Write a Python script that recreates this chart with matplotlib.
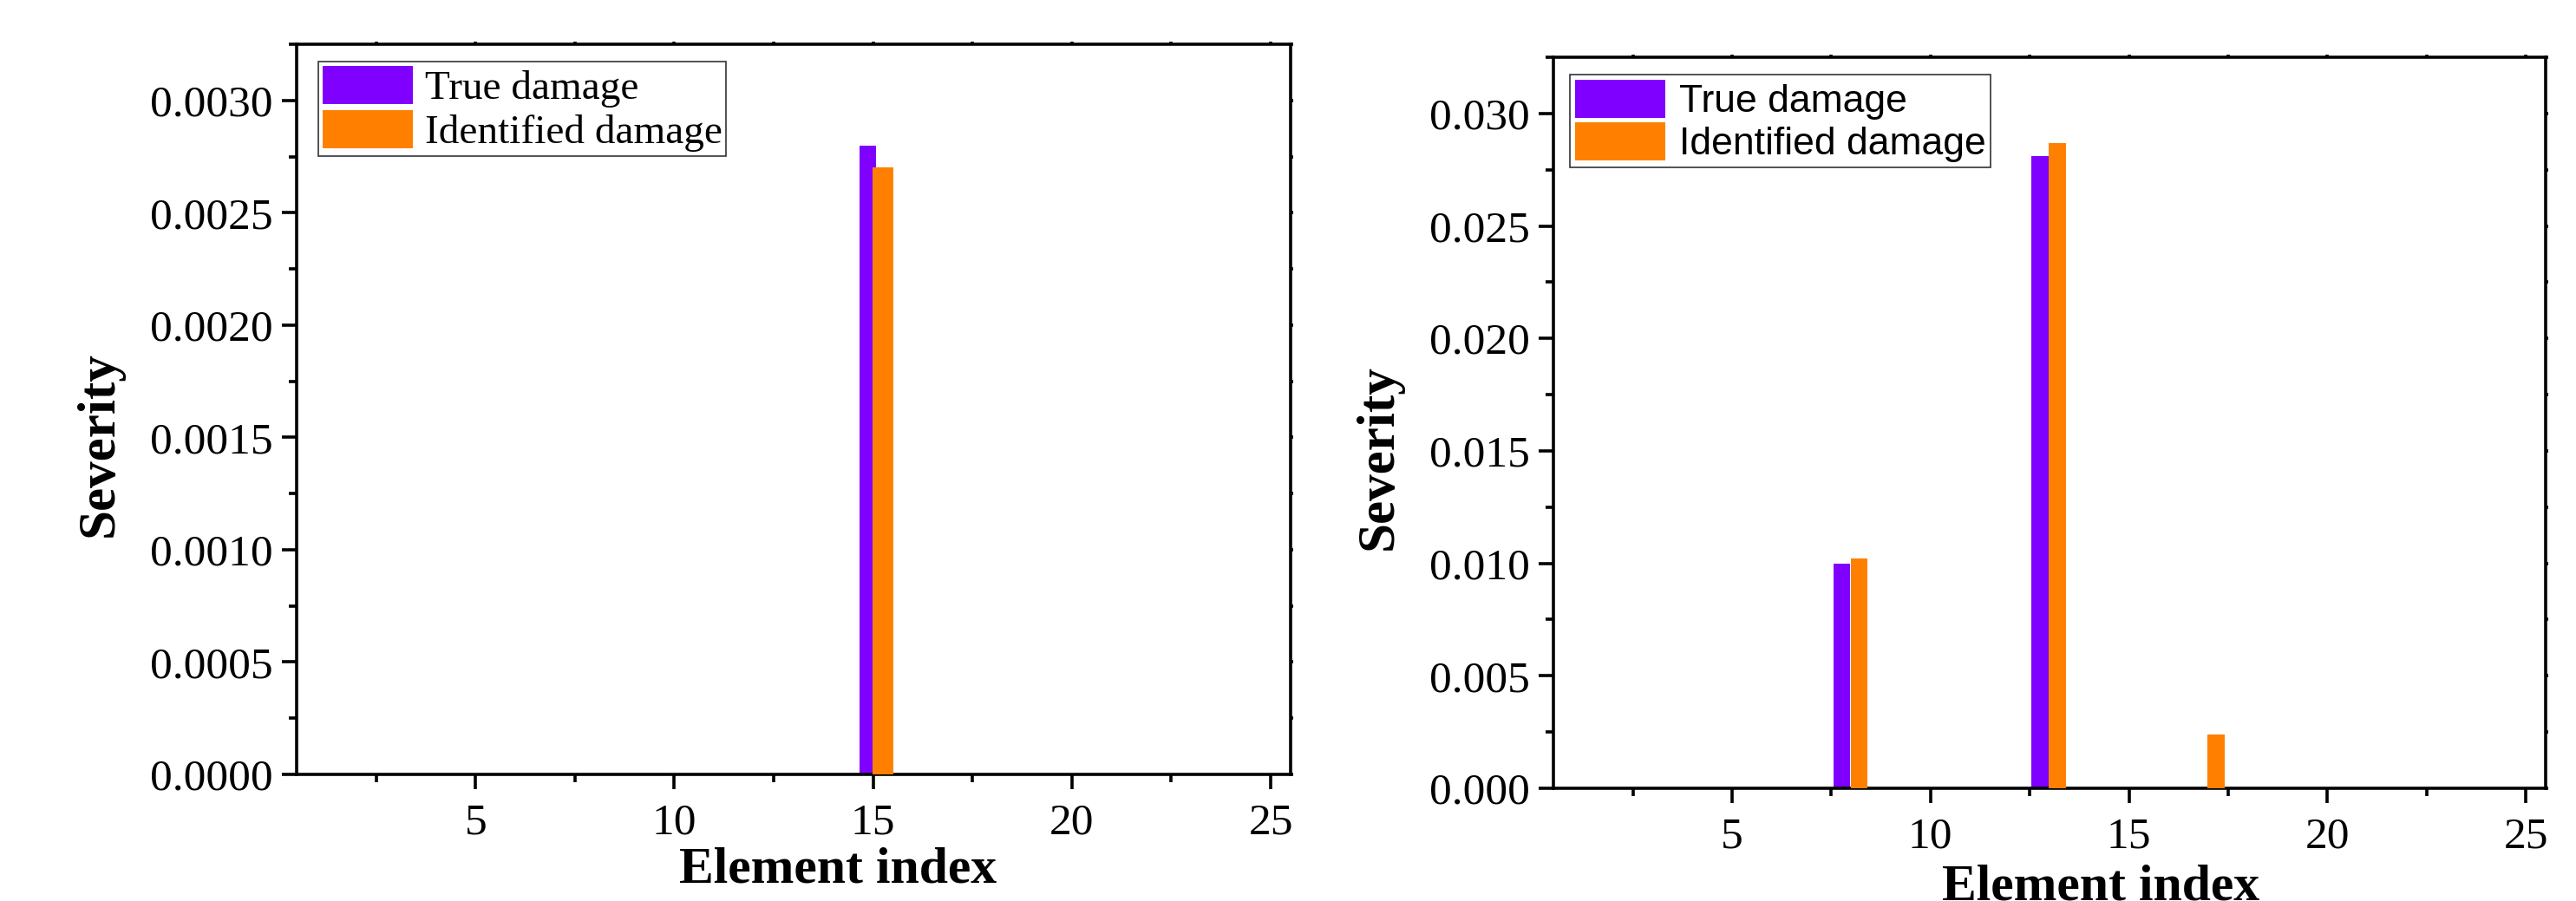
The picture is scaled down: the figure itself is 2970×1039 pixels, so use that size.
import numpy as np
import matplotlib
matplotlib.use("Agg")
import matplotlib.pyplot as plt
from matplotlib.ticker import MultipleLocator, FormatStrFormatter

# ---------------- data ----------------
elements = np.arange(1, 26)

left_true = np.zeros(25)
left_true[14] = 0.0028
left_ident = np.zeros(25)
left_ident[14] = 0.0027

right_true = np.zeros(25)
right_true[7] = 0.0100
right_true[12] = 0.0281
right_ident = np.zeros(25)
right_ident[7] = 0.0102
right_ident[12] = 0.0287
right_ident[16] = 0.0024

series_labels = ["True damage", "Identified damage"]
x_ticks = [5, 10, 15, 20, 25]

PURPLE = "#8000FF"
ORANGE = "#FF8000"
SERIF = "Liberation Serif"
SANS = "Liberation Sans"

W, H = 2970, 1039
fig = plt.figure(figsize=(W / 100, H / 100), dpi=100)


def px_axes(x0, x1, ytop, ybot):
    return fig.add_axes([x0 / W, 1 - ybot / H, (x1 - x0) / W, (ybot - ytop) / H])


ax1 = px_axes(342, 1488, 51, 893)
ax2 = px_axes(1791, 2935, 66, 909)


def style_axes(ax, ymax, ystep, fmt):
    ax.set_xlim(0.5, 25.5)
    ax.set_ylim(0, ymax)
    ax.xaxis.set_major_locator(MultipleLocator(5))
    ax.xaxis.set_minor_locator(MultipleLocator(2.5))
    ax.yaxis.set_major_locator(MultipleLocator(ystep))
    ax.yaxis.set_minor_locator(MultipleLocator(ystep / 2))
    ax.yaxis.set_major_formatter(FormatStrFormatter(fmt))
    ax.set_xticks(x_ticks)
    for s in ax.spines.values():
        s.set_linewidth(2.6)
        s.set_color("black")
    ax.tick_params(axis="both", which="major", direction="out", length=12.5,
                   width=2.6, labelsize=37, pad=7, color="black")
    ax.tick_params(axis="both", which="minor", direction="out", length=6.5,
                   width=2.6, color="black")
    ax.tick_params(axis="x", which="major", pad=11)
    ax.tick_params(top=True, right=True, which="both")
    ax.tick_params(axis="x", which="both", top=True, length=2)
    ax.tick_params(axis="x", which="major", bottom=True, length=12.5)
    ax.tick_params(axis="x", which="minor", bottom=True, length=6.5)
    ax.tick_params(axis="y", which="both", right=True)
    for lab in ax.get_xticklabels() + ax.get_yticklabels():
        lab.set_fontfamily(SERIF)
    # make top/right ticks tiny
    for t in ax.xaxis.get_major_ticks() + ax.xaxis.get_minor_ticks():
        t.tick2line.set_markersize(2)
    for t in ax.yaxis.get_major_ticks() + ax.yaxis.get_minor_ticks():
        t.tick2line.set_markersize(2)


# left panel bars
ax1.bar(elements - 0.135, left_true, width=0.43, color=PURPLE, linewidth=0,
        label=series_labels[0], zorder=2)
ax1.bar(elements + 0.24, left_ident, width=0.52, color=ORANGE, linewidth=0,
        label=series_labels[1], zorder=3)
style_axes(ax1, 0.00325, 0.0005, "%.4f")

# right panel bars
ax2.bar(elements - 0.235, right_true, width=0.43, color=PURPLE, linewidth=0,
        label=series_labels[0], zorder=2)
ax2.bar(elements + 0.2, right_ident, width=0.43, color=ORANGE, linewidth=0,
        label=series_labels[1], zorder=3)
style_axes(ax2, 0.0325, 0.005, "%.3f")

# legends
leg1 = ax1.legend(loc="upper left", bbox_to_anchor=(0.0218, 0.976),
                  borderaxespad=0, prop={"family": SERIF, "size": 34},
                  handlelength=2.2, handleheight=1.06, labelspacing=0.06,
                  handletextpad=0.3, borderpad=0.1, fancybox=False,
                  edgecolor="#333333", framealpha=1)
leg1.get_frame().set_linewidth(1.2)

leg2 = ax2.legend(loc="upper left", bbox_to_anchor=(0.0166, 0.976),
                  borderaxespad=0, prop={"family": SANS, "size": 32},
                  handlelength=2.34, handleheight=1.13, labelspacing=0.08,
                  handletextpad=0.36, borderpad=0.13, fancybox=False,
                  edgecolor="#333333", framealpha=1)
leg2.get_frame().set_linewidth(1.2)

# axis labels placed to match reference
fig.text(115 / W, 1 - 512 / H, "Severity", rotation=90, ha="center", va="center",
         fontfamily=SERIF, fontweight="bold", fontsize=44)
fig.text(1590 / W, 1 - 527 / H, "Severity", rotation=90, ha="center", va="center",
         fontfamily=SERIF, fontweight="bold", fontsize=44)
fig.text(966 / W, 1 - 1017 / H, "Element index", ha="center", va="baseline",
         fontfamily=SERIF, fontweight="bold", fontsize=43)
fig.text(2422 / W, 1 - 1037 / H, "Element index", ha="center", va="baseline",
         fontfamily=SERIF, fontweight="bold", fontsize=43)

fig.savefig("out.png", dpi=100, facecolor="white")
